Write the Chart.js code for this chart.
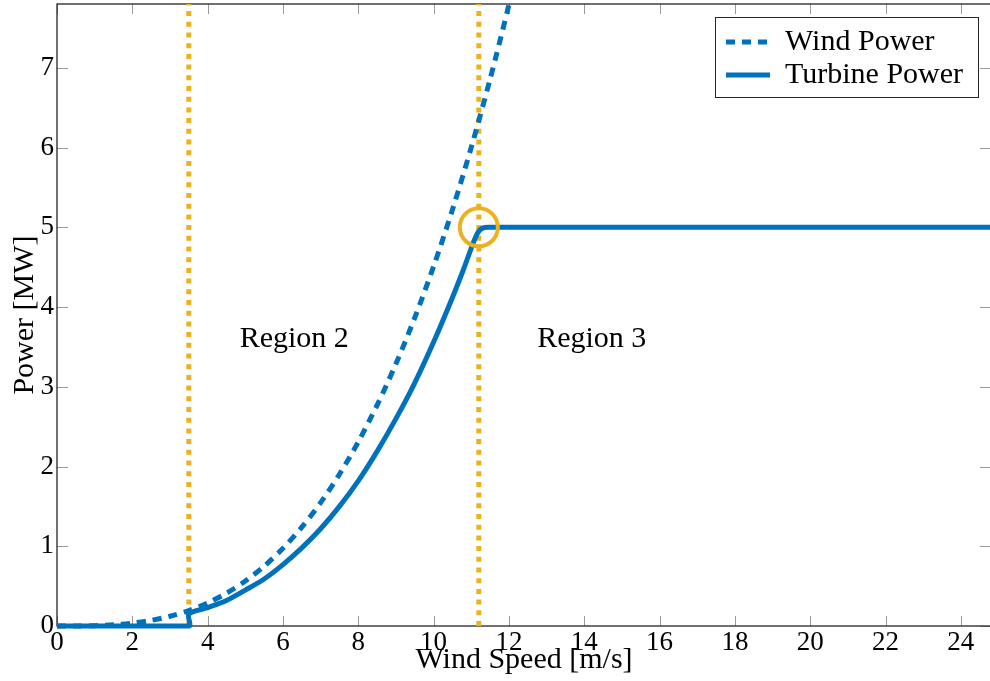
<!DOCTYPE html>
<html><head><meta charset="utf-8">
<script src="https://cdn.jsdelivr.net/npm/chart.js@4/dist/chart.umd.min.js"></script>
<style>
html,body{margin:0;padding:0;overflow:hidden;background:#fff;width:990px;height:681px}
#wrap{position:relative;width:1000px;height:681px}
</style></head>
<body><div id="wrap"><canvas id="c" width="1000" height="681"></canvas></div>
<script>
// ---- data ----
const xTicks = [0, 2, 4, 6, 8, 10, 12, 14, 16, 18, 20, 22, 24];
const yTicks = [0, 1, 2, 3, 4, 5, 6, 7];
const xMax = 24.8;
const yMax = 7.8;

const windSpeed = [0, 0.5, 1, 1.5, 2, 2.5, 3, 3.5, 4, 4.5, 5, 5.5, 6, 6.5, 7, 7.5, 8, 8.5, 9, 9.5, 10, 10.5, 11, 11.5, 12, 12.5];
const windPower = [0, 0.0006, 0.0045, 0.015, 0.036, 0.070, 0.122, 0.193, 0.289, 0.411, 0.564, 0.750, 0.974, 1.239, 1.547, 1.903, 2.309, 2.770, 3.288, 3.867, 4.510, 5.221, 6.003, 6.859, 7.793, 8.81];

const turbineSpeed = [0, 3.5, 3.5, 4, 4.5, 5, 5.5, 6, 6.5, 7, 7.5, 8, 8.5, 9, 9.5, 10, 10.5, 10.8, 11.0, 11.1, 11.2, 11.3, 11.45, 24.8];
const turbinePower = [0, 0, 0.15, 0.23, 0.32, 0.45, 0.59, 0.77, 0.98, 1.22, 1.50, 1.82, 2.19, 2.60, 3.05, 3.56, 4.12, 4.48, 4.74, 4.86, 4.95, 4.99, 5.0, 5.0];

const regionBounds = [3.5, 11.2];
const ratedSpeed = [11.2];
const ratedPower = [5.0];
const regionLabels = ['Region 2', 'Region 3'];
const regionLabelSpeed = [6.3, 14.2];
const regionLabelPower = [3.6, 3.6];
const seriesNames = ['Wind Power', 'Turbine Power'];

// ---- styles ----
const BLUE = '#0072BD';
const ORANGE = '#EDB120';
const SERIF = '"Liberation Serif", "DejaVu Serif", serif';

const toXY = (xs, ys) => xs.map((x, i) => ({x: x, y: ys[i]}));

const datasets = [
  {
    label: 'rated', data: toXY(ratedSpeed, ratedPower), showLine: false,
    pointRadius: 19, pointHoverRadius: 19, pointBorderWidth: 4, pointBorderColor: ORANGE,
    pointBackgroundColor: 'rgba(0,0,0,0)', borderColor: ORANGE, order: 0, clip: false
  },
  {
    label: seriesNames[0], data: toXY(windSpeed, windPower), borderColor: BLUE, backgroundColor: BLUE,
    borderWidth: 5, borderDash: [9, 7], borderCapStyle: 'butt', pointRadius: 0, tension: 0.3, order: 1,
    clip: {left: 5, top: 0, right: 0, bottom: 5}
  },
  {
    label: seriesNames[1], data: toXY(turbineSpeed, turbinePower), borderColor: BLUE, backgroundColor: BLUE,
    borderWidth: 5, pointRadius: 0, tension: 0.3, order: 2, borderJoinStyle: 'round',
    clip: {left: 5, top: 0, right: 0, bottom: 5}
  }
];
regionBounds.forEach((v, i) => {
  datasets.push({
    label: 'bound' + i, data: [{x: v, y: 0}, {x: v, y: yMax}], borderColor: ORANGE,
    borderWidth: 5, borderDash: [5, 5.7], pointRadius: 0, order: 3 + i, clip: 0
  });
});

const framePlugin = {
  id: 'frame',
  afterLayout(chart) {
    const ca = chart.chartArea, L = chart.legend;
    if (!L) return;
    L.left = ca.right - 268; L.top = ca.top + 20;
    L.width = 256; L.height = 76;
    L.right = L.left + L.width; L.bottom = L.top + L.height;
  },
  beforeDatasetsDraw(chart) {
    const {ctx, chartArea: ca, scales} = chart;
    ctx.save();
    ctx.strokeStyle = '#9a9a9a'; ctx.lineWidth = 1;
    ctx.beginPath();
    scales.x.ticks.forEach(t => {
      const px = Math.round(scales.x.getPixelForValue(t.value)) + 0.5;
      ctx.moveTo(px, ca.bottom); ctx.lineTo(px, ca.bottom - 10);
      ctx.moveTo(px, ca.top); ctx.lineTo(px, ca.top + 10);
    });
    scales.y.ticks.forEach(t => {
      const py = Math.round(scales.y.getPixelForValue(t.value)) + 0.5;
      ctx.moveTo(ca.left, py); ctx.lineTo(ca.left + 11, py);
      ctx.moveTo(ca.right, py); ctx.lineTo(ca.right - 11, py);
    });
    ctx.stroke();
    ctx.strokeStyle = '#262626'; ctx.lineWidth = 1.3;
    ctx.strokeRect(ca.left, ca.top, ca.right - ca.left, ca.bottom - ca.top);
    ctx.restore();
  },
  afterDatasetsDraw(chart) {
    const {ctx, scales} = chart;
    ctx.save();
    ctx.fillStyle = '#000'; ctx.font = '30px ' + SERIF;
    ctx.textAlign = 'center'; ctx.textBaseline = 'middle';
    regionLabels.forEach((t, i) => {
      ctx.fillText(t, scales.x.getPixelForValue(regionLabelSpeed[i]), scales.y.getPixelForValue(regionLabelPower[i]));
    });
    ctx.restore();
  },
  afterDraw(chart) {
    const {ctx, chartArea: ca} = chart;
    ctx.save();
    ctx.strokeStyle = '#262626'; ctx.lineWidth = 1;
    ctx.strokeRect(Math.round(ca.right - 276) + 0.5, ca.top + 13.5, 263, 80);
    ctx.restore();
  }
};

const noPad = (s) => { s.paddingTop = 0; s.paddingBottom = 0; s.paddingLeft = 0; s.paddingRight = 0; };

new Chart(document.getElementById('c'), {
  type: 'line',
  data: {datasets: datasets},
  plugins: [framePlugin],
  options: {
    responsive: false, devicePixelRatio: 1, animation: false, events: [],
    layout: {autoPadding: false, padding: {left: 0, right: 9, top: 4, bottom: 0}},
    plugins: {
      tooltip: {enabled: false},
      legend: {
        position: 'chartArea', align: 'start',
        labels: {
          font: {family: SERIF, size: 30}, color: '#000', usePointStyle: true, pointStyle: 'line',
          pointStyleWidth: 44, padding: 3,
          filter: (item) => seriesNames.includes(item.text),
          generateLabels: (chart) => {
            const items = Chart.defaults.plugins.legend.labels.generateLabels(chart);
            return items.map(it => {
              const ds = chart.data.datasets[it.datasetIndex];
              it.lineDash = ds.borderDash || [];
              it.lineWidth = ds.borderWidth;
              it.strokeStyle = ds.borderColor;
              it.fillStyle = ds.borderColor;
              it.lineCap = 'butt';
              it.pointStyle = 'line';
              return it;
            });
          }
        }
      }
    },
    scales: {
      x: {
        type: 'linear', position: 'bottom', min: 0, max: xMax,
        afterFit: (s) => { s.height = 55; noPad(s); },
        afterBuildTicks: (s) => { s.ticks = xTicks.map(v => ({value: v})); },
        grid: {display: false, drawTicks: false}, border: {display: false},
        ticks: {font: {family: SERIF, size: 27}, color: '#000', padding: 1, maxRotation: 0, autoSkip: false, includeBounds: false},
        title: {display: true, text: 'Wind Speed [m/s]', font: {family: SERIF, size: 30}, color: '#000', padding: {top: 0, bottom: 3}}
      },
      y: {
        type: 'linear', position: 'left', min: 0, max: yMax,
        afterFit: (s) => { s.width = 57; noPad(s); },
        afterBuildTicks: (s) => { s.ticks = yTicks.map(v => ({value: v})); },
        grid: {display: false, drawTicks: false}, border: {display: false},
        ticks: {font: {family: SERIF, size: 27}, color: '#000', padding: 3, autoSkip: false, includeBounds: false},
        title: {display: true, text: 'Power [MW]', font: {family: SERIF, size: 30}, color: '#000', padding: {top: 7, bottom: 0}}
      }
    }
  }
});
</script>
</body></html>
